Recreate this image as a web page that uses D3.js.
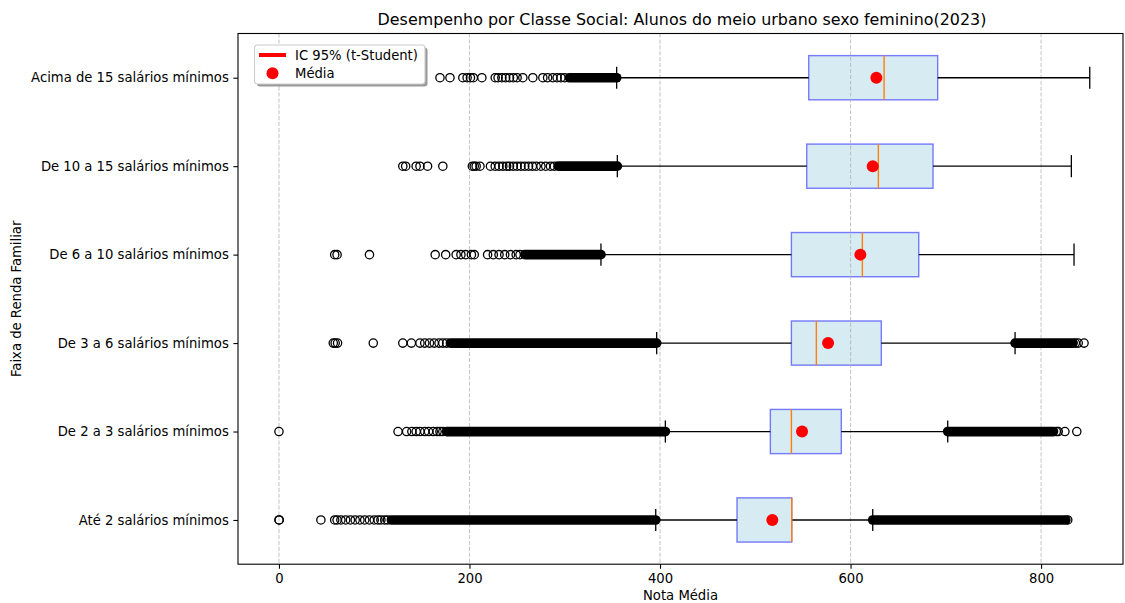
<!DOCTYPE html>
<html>
<head>
<meta charset="utf-8">
<script src="https://cdn.jsdelivr.net/npm/d3@7"></script>
<style>
  html, body { margin: 0; padding: 0; background: #fff; }
  svg { display: block; font-family: "DejaVu Sans", sans-serif; }
</style>
</head>
<body>
<svg id="chart" width="1125" height="603"></svg>
<script>
// Income bands, bottom to top on the y axis
const categories = [
  "Até 2 salários mínimos",
  "De 2 a 3 salários mínimos",
  "De 3 a 6 salários mínimos",
  "De 6 a 10 salários mínimos",
  "De 10 a 15 salários mínimos",
  "Acima de 15 salários mínimos"
];

// Box statistics per band
const q1 = [480.8, 515.8, 537.9, 537.9, 554.0, 556.1];
const medians = [538.3, 537.9, 564.1, 612.4, 629.2, 635.2];
const q3 = [538.3, 590.3, 632.3, 671.6, 686.6, 691.5];
const whiskerLow = [395.5, 405.6, 396.5, 338.0, 355.2, 354.5];
const whiskerHigh = [623.3, 702.0, 772.7, 834.6, 831.8, 851.1];

// Mean and 95% confidence interval (t-Student)
const means = [517.9, 549.1, 576.4, 610.3, 623.3, 627.1];
const ciLow = [517.7, 548.8, 575.9, 609.4, 622.0, 625.6];
const ciHigh = [518.1, 549.4, 576.9, 611.2, 624.6, 628.6];

// Isolated outliers per band
const outliers = [
  [0, 0.3, 44, 58.5, 61, 65, 70, 75, 80, 85, 90, 95, 100, 104, 107, 111, 114, 828],
  [0, 125, 134, 139.5, 144, 148, 153, 157, 162, 166, 169, 172, 816, 818, 825, 837.5],
  [57, 59, 61.5, 99, 130, 139, 148, 153, 158, 163, 168, 172, 176, 836, 839, 845.1],
  [58.5, 61, 95, 164, 175, 186, 191, 196, 202, 205, 219, 225, 231, 237, 243, 249, 253],
  [130, 133, 144, 148, 156, 172, 203, 205, 207, 211, 222, 227, 231, 235, 239, 242, 246, 250, 254, 258, 262, 266, 270, 275, 280, 285, 289],
  [169, 179.5, 193, 197.5, 201, 204, 213, 227, 230, 234, 238, 242, 246, 250, 256, 266.5, 277, 282, 287.5, 292, 296, 300]
];

// Runs of outliers so dense that the markers merge into a solid band
const outlierRuns = [
  [[118, 395.5], [623.3, 826]],
  [[176, 405.6], [702, 813]],
  [[180, 396.5], [772.7, 833.6]],
  [[258, 338]],
  [[293, 355.2]],
  [[305, 354.5]]
];

const xTicks = [0, 200, 400, 600, 800];

(function draw() {
  const svg = d3.select("#chart");
  const plotL = 238, plotR = 1123, plotT = 33.5, plotB = 564.2;

  const x = d3.scaleLinear().domain([-43, 886]).range([plotL, plotR]);
  const y = d3.scaleLinear().domain([0.5, 6.5]).range([plotB, plotT]);
  const pos = i => y(i + 1);
  const boxHalf = y(0) - y(0.25);
  const capHalf = y(0) - y(0.125);

  const data = categories.map((c, i) => ({
    c, i, q1: q1[i], med: medians[i], q3: q3[i], lo: whiskerLow[i], hi: whiskerHigh[i],
    mean: means[i], ciL: ciLow[i], ciH: ciHigh[i], out: outliers[i], runs: outlierRuns[i]
  }));

  // Title and axis labels
  svg.append("text").attr("x", (plotL + plotR) / 2 + 1.5).attr("y", 25)
    .attr("text-anchor", "middle").attr("font-size", 15.9).attr("fill", "#000")
    .text("Desempenho por Classe Social: Alunos do meio urbano sexo feminino(2023)");
  svg.append("text").attr("x", (plotL + plotR) / 2).attr("y", 600)
    .attr("text-anchor", "middle").attr("font-size", 13.2)
    .text("Nota Média");
  svg.append("text").attr("transform", `translate(21,${(plotT + plotB) / 2}) rotate(-90)`)
    .attr("text-anchor", "middle").attr("font-size", 13.2)
    .text("Faixa de Renda Familiar");

  // Boxes (semi-transparent fill and edge)
  svg.append("g").selectAll("rect").data(data).join("rect")
    .attr("x", d => x(d.q1)).attr("width", d => x(d.q3) - x(d.q1))
    .attr("y", d => pos(d.i) - boxHalf).attr("height", 2 * boxHalf)
    .attr("fill", "#add8e6").attr("fill-opacity", 0.5)
    .attr("stroke", "#0000ff").attr("stroke-opacity", 0.5).attr("stroke-width", 1.4);

  // Vertical grid, drawn above the box patches
  svg.append("g").selectAll("line").data(xTicks).join("line")
    .attr("x1", d => x(d)).attr("x2", d => x(d)).attr("y1", plotT).attr("y2", plotB)
    .attr("stroke", "#b0b0b0").attr("stroke-opacity", 0.7).attr("stroke-width", 1.1)
    .attr("stroke-dasharray", "4.1,1.8");

  // X axis ticks and labels
  const xAxisG = svg.append("g").attr("transform", `translate(0,${plotB})`)
    .call(d3.axisBottom(x).tickValues(xTicks).tickSize(4.6).tickPadding(4.6).tickFormat(d3.format("d")));
  xAxisG.select(".domain").remove();
  xAxisG.selectAll("text").attr("font-size", 13.2).attr("font-family", "DejaVu Sans").attr("fill", "#000");
  xAxisG.selectAll("line").attr("stroke", "#000").attr("stroke-width", 1.1);

  const lines = svg.append("g");

  // Whiskers
  lines.append("g").selectAll("line").data(data).join("line")
    .attr("x1", d => x(d.lo)).attr("x2", d => x(d.q1))
    .attr("y1", d => pos(d.i)).attr("y2", d => pos(d.i))
    .attr("stroke", "#000").attr("stroke-width", 1.3);
  lines.append("g").selectAll("line").data(data).join("line")
    .attr("x1", d => x(d.q3)).attr("x2", d => x(d.hi))
    .attr("y1", d => pos(d.i)).attr("y2", d => pos(d.i))
    .attr("stroke", "#000").attr("stroke-width", 1.3);

  // Caps
  data.forEach(d => {
    [d.lo, d.hi].forEach(v => {
      lines.append("line").attr("x1", x(v)).attr("x2", x(v))
        .attr("y1", pos(d.i) - capHalf).attr("y2", pos(d.i) + capHalf)
        .attr("stroke", "#000").attr("stroke-width", 1.3);
    });
  });

  // Medians
  lines.append("g").selectAll("line").data(data).join("line")
    .attr("x1", d => x(d.med)).attr("x2", d => x(d.med))
    .attr("y1", d => pos(d.i) - boxHalf).attr("y2", d => pos(d.i) + boxHalf)
    .attr("stroke", "#ff7f0e").attr("stroke-width", 1.4);

  // Outliers: merged runs and isolated markers
  const flierR = 4.15;
  data.forEach(d => {
    const fg = lines.append("g");
    d.runs.forEach(([a, b]) => {
      fg.append("line").attr("x1", x(a)).attr("x2", x(b))
        .attr("y1", pos(d.i)).attr("y2", pos(d.i))
        .attr("stroke", "#000").attr("stroke-width", 2 * flierR + 1.4)
        .attr("stroke-linecap", "round");
    });
    fg.selectAll("circle").data(d.out).join("circle")
      .attr("cx", v => x(v)).attr("cy", pos(d.i)).attr("r", flierR)
      .attr("fill", "none").attr("stroke", "#000").attr("stroke-width", 1.3);
  });

  // Confidence interval and mean
  lines.append("g").selectAll("line").data(data).join("line")
    .attr("x1", d => x(d.ciL)).attr("x2", d => x(d.ciH))
    .attr("y1", d => pos(d.i)).attr("y2", d => pos(d.i))
    .attr("stroke", "red").attr("stroke-width", 4);
  lines.append("g").selectAll("circle").data(data).join("circle")
    .attr("cx", d => x(d.mean)).attr("cy", d => pos(d.i)).attr("r", 6)
    .attr("fill", "red");

  // Frame
  svg.append("rect").attr("x", plotL).attr("y", plotT)
    .attr("width", plotR - plotL).attr("height", plotB - plotT)
    .attr("fill", "none").attr("stroke", "#000").attr("stroke-width", 1.1);

  // Y axis ticks and labels
  const yAxisG = svg.append("g").attr("transform", `translate(${plotL},0)`)
    .call(d3.axisLeft(y).tickValues(d3.range(1, 7)).tickSize(4.6).tickPadding(4.6)
      .tickFormat(v => categories[v - 1]));
  yAxisG.select(".domain").remove();
  yAxisG.selectAll("text").attr("font-size", 13.2).attr("font-family", "DejaVu Sans").attr("fill", "#000");
  yAxisG.selectAll("line").attr("stroke", "#000").attr("stroke-width", 1.1);

  // Legend
  const lg = svg.append("g").attr("transform", "translate(254.5,45)");
  lg.append("rect").attr("x", 2.5).attr("y", 2.5).attr("width", 170.5).attr("height", 39)
    .attr("rx", 3).attr("fill", "#000").attr("fill-opacity", 0.4);
  lg.append("rect").attr("x", 0).attr("y", 0).attr("width", 170.5).attr("height", 39)
    .attr("rx", 3).attr("fill", "#fff").attr("stroke", "#cccccc").attr("stroke-width", 1.1);
  lg.append("line").attr("x1", 4.5).attr("x2", 31.5).attr("y1", 10).attr("y2", 10)
    .attr("stroke", "red").attr("stroke-width", 4);
  lg.append("circle").attr("cx", 18).attr("cy", 28.3).attr("r", 6).attr("fill", "red");
  lg.append("text").attr("x", 40.5).attr("y", 14.6).attr("font-size", 13.2).text("IC 95% (t-Student)");
  lg.append("text").attr("x", 40.5).attr("y", 32.9).attr("font-size", 13.2).text("Média");
})();
</script>
</body>
</html>
